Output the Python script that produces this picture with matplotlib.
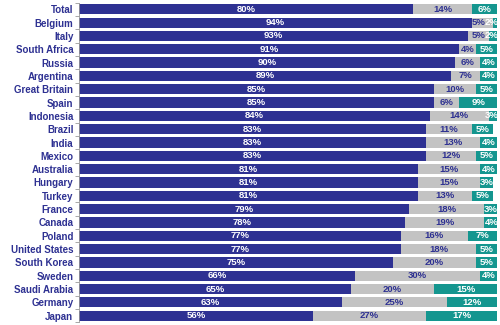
import numpy as np
import matplotlib.pyplot as plt

countries = ["Total", "Belgium", "Italy", "South Africa", "Russia", "Argentina",
             "Great Britain", "Spain", "Indonesia", "Brazil", "India", "Mexico",
             "Australia", "Hungary", "Turkey", "France", "Canada", "Poland",
             "United States", "South Korea", "Sweden", "Saudi Arabia", "Germany", "Japan"]
first = [80, 94, 93, 91, 90, 89, 85, 85, 84, 83, 83, 83, 81, 81, 81, 79, 78, 77, 77, 75, 66, 65, 63, 56]
second = [14, 5, 5, 4, 6, 7, 10, 6, 14, 11, 13, 12, 15, 15, 13, 18, 19, 16, 18, 20, 30, 20, 25, 27]
third = [6, 2, 2, 5, 4, 4, 5, 9, 3, 5, 4, 5, 4, 3, 5, 3, 4, 7, 5, 5, 4, 15, 12, 17]

navy = "#2e3192"
grey = "#c3c3c3"
teal = "#14968f"

plt.rcParams['font.family'] = ['Liberation Sans', 'DejaVu Sans']
fig = plt.figure(figsize=(5, 3.25), dpi=100)
ax = fig.add_axes([0.158, 0.008, 0.836, 0.984])

y = np.arange(len(countries))
a = np.array(first)
b = np.array(second)
c = np.array(third)
h = 0.76
ax.barh(y, a, height=h, color=navy)
ax.barh(y, b, left=a, height=h, color=grey)
ax.barh(y, c, left=a + b, height=h, color=teal)

fs = 6.8
lw = 2.6  # rough width of a two-digit label, in axis units
for i in range(len(countries)):
    ax.text(a[i] / 2, y[i], f"{a[i]}%", ha="center", va="center",
            color="white", fontsize=fs, fontweight="bold")
    # push the small end labels left so they stay inside and apart
    xt = min(a[i] + b[i] + c[i] / 2, 100 - lw / 2)
    xg = min(a[i] + b[i] / 2, xt - lw / 2 - 0.3 - lw / 2 - 0.2)
    ax.text(xg, y[i], f"{b[i]}%", ha="center", va="center",
            color=navy, fontsize=fs, fontweight="bold")
    ax.text(xt, y[i], f"{c[i]}%", ha="center", va="center",
            color="white", fontsize=fs, fontweight="bold")

ax.set_xlim(0, 100)
ax.set_ylim(len(countries) - 0.5, -0.5)
ax.set_yticks(y)
ax.set_yticklabels(countries, color=navy, fontsize=7, fontweight="bold")
ax.set_yticks(np.arange(len(countries) + 1) - 0.5, minor=True)
ax.tick_params(axis="y", which="major", length=0, pad=4)
ax.tick_params(axis="y", which="minor", length=3, color="#999999", width=0.6)
ax.set_xticks([])
for s in ["top", "right", "bottom"]:
    ax.spines[s].set_visible(False)
ax.spines["left"].set_color("#999999")
ax.spines["left"].set_linewidth(0.6)

fig.savefig("out.png", dpi=100)
